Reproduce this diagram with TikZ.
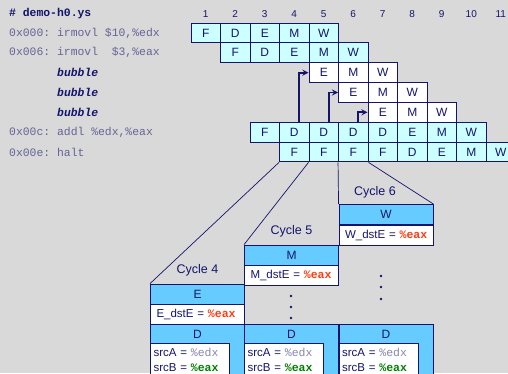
\documentclass[tikz,border=0pt]{standalone}
\usepackage{fontspec}
\setmainfont{Liberation Sans}
\setmonofont{Liberation Mono}
\usetikzlibrary{positioning}

\definecolor{navy}{RGB}{20,20,110}
\definecolor{cellcyan}{RGB}{204,255,255}
\definecolor{hdrblue}{RGB}{102,204,255}
\definecolor{bggray}{RGB}{217,217,217}
\definecolor{codegray}{RGB}{100,100,150}
\definecolor{regred}{RGB}{255,60,20}
\definecolor{reggreen}{RGB}{0,128,0}
\definecolor{reggray}{RGB}{135,135,175}

% one pipeline row: name, row, first cycle, stages, style
\newcommand{\stagerow}[5]{%
  \foreach \s [count=\c from #3] in {#4}
    \node[#5] (#1\c) at ({176.25+29.5*\c},{33+19.83*(#2-1)}) {\s};}

\tikzset{
  cell/.style={draw=navy, fill=cellcyan, line width=0.9pt, minimum width=29.5pt,
    minimum height=19.83pt, inner sep=0pt, text=navy, font=\fontsize{12}{12}\selectfont},
  bubcell/.style={cell, fill=white},
  cycnum/.style={text=navy, font=\fontsize{10}{10}\selectfont},
  code/.style={anchor=west, inner sep=0pt, text=codegray, font=\ttfamily\fontsize{11.4}{12}\selectfont},
  hdr/.style={draw=navy, fill=hdrblue, line width=0.9pt, minimum width=94pt, minimum height=20pt,
    inner sep=0pt, text=navy, font=\fontsize{12}{12}\selectfont},
  val/.style={draw=navy, fill=white, line width=0.9pt, minimum width=94pt, minimum height=20pt,
    inner sep=0pt, anchor=north, text width=82pt, align=left, text=navy, font=\fontsize{11.5}{12}\selectfont},
  dbox/.style={draw=navy, fill=hdrblue, line width=0.9pt, minimum width=94pt, minimum height=60pt,
    inner sep=0pt, anchor=north},
  dval/.style={draw=navy, fill=white, line width=0.9pt, minimum width=79pt, minimum height=33pt,
    inner sep=0pt, anchor=north west, text width=73pt, align=left, text=navy,
    font=\fontsize{11.5}{15.5}\selectfont},
  lbl/.style={text=navy, font=\fontsize{12.5}{13}\selectfont},
  dep/.style={->, navy, line width=1.7pt},
  fan/.style={navy, line width=0.7pt}
}

\begin{document}
\begin{tikzpicture}[x=1pt, y=-1pt, >=stealth]
  \useasboundingbox (0,0) rectangle (508,373);
  \fill[bggray] (0,0) rectangle (508,373);
  \clip (0,0) rectangle (508,373);

  % program listing
  \node[code, text=navy, font=\ttfamily\bfseries\fontsize{11.4}{12}\selectfont] (file) at (9,14) {\# demo-h0.ys};
  \node[code] (l1) at (9,33) {0x000: irmovl \$10,\%edx};
  \node[code] (l2) at (9,52.8) {0x006: irmovl\ \ \$3,\%eax};
  \foreach \r/\y in {1/72.7, 2/92.5, 3/112.3}
    \node[code, text=navy, font=\ttfamily\bfseries\itshape\fontsize{11.4}{12}\selectfont] (bub\r) at (57,\y) {bubble};
  \node[code] (l3) at (9,132.2) {0x00c: addl \%edx,\%eax};
  \node[code] (l4) at (9,152) {0x00e: halt};

  % cycle numbers
  \foreach \c in {1,...,11}
    \node[cycnum] (n\c) at ({176.25+29.5*\c},14) {\c};

  % pipeline diagram
  \stagerow{i1}{1}{1}{F,D,E,M,W}{cell}
  \stagerow{i2}{2}{2}{F,D,E,M,W}{cell}
  \stagerow{b1}{3}{5}{E,M,W}{bubcell}
  \stagerow{b2}{4}{6}{E,M,W}{bubcell}
  \stagerow{b3}{5}{7}{E,M,W}{bubcell}
  \stagerow{add}{6}{3}{F,D,D,D,D,E,M,W}{cell}
  \stagerow{halt}{7}{4}{F,F,F,F,D,E,M,W}{cell}

  % stalled decode feeds the bubbles
  \draw[dep] ([xshift=5pt]add4.north) |- (b15.west);
  \draw[dep] ([xshift=5pt]add5.north) |- (b26.west);
  \draw[dep] ([xshift=5pt]add6.north) |- (b37.west);

  % cycle 4
  \node[hdr] (e4h) at (197.5,294) {E};
  \node[val] (e4v) at (e4h.south) {\mbox{E\_dstE = {\ttfamily\bfseries\color{regred}\%eax}}};
  \node[lbl] (cyc4) at ([yshift=13pt]e4h.north) {Cycle 4};
  \node[dbox] (d4) at (197.5,324) {};
  \node[text=navy, font=\fontsize{12}{12}\selectfont] (d4h) at ([yshift=-10pt]d4.north) {D};
  \node[dval] (d4v) at ([yshift=-19pt]d4.north west)
    {srcA = {\ttfamily\color{reggray}\%edx}\\srcB = {\ttfamily\bfseries\color{reggreen}\%eax}};

  % cycle 5
  \node[hdr] (m5h) at (291.5,255) {M};
  \node[val] (m5v) at (m5h.south) {\mbox{M\_dstE = {\ttfamily\bfseries\color{regred}\%eax}}};
  \node[lbl] (cyc5) at ([yshift=13pt]m5h.north) {Cycle 5};
  \node[dbox] (d5) at (291.5,324) {};
  \node[text=navy, font=\fontsize{12}{12}\selectfont] (d5h) at ([yshift=-10pt]d5.north) {D};
  \node[dval] (d5v) at ([yshift=-19pt]d5.north west)
    {srcA = {\ttfamily\color{reggray}\%edx}\\srcB = {\ttfamily\bfseries\color{reggreen}\%eax}};
  \foreach \y in {296,307,318}
    \fill[navy] (291,\y) circle (1.3);

  % cycle 6
  \node[hdr] (w6h) at (386,214.5) {W};
  \node[val] (w6v) at (w6h.south) {\mbox{W\_dstE = {\ttfamily\bfseries\color{regred}\%eax}}};
  \node[lbl] (cyc6) at ([xshift=-11pt, yshift=12pt]w6h.north) {Cycle 6};
  \node[dbox] (d6) at (386,324) {};
  \node[text=navy, font=\fontsize{12}{12}\selectfont] (d6h) at ([yshift=-10pt]d6.north) {D};
  \node[dval] (d6v) at ([yshift=-19pt]d6.north west)
    {srcA = {\ttfamily\color{reggray}\%edx}\\srcB = {\ttfamily\bfseries\color{reggreen}\%eax}};
  \foreach \y in {276,287,299}
    \fill[navy] (381,\y) circle (1.3);

  % zoom lines
  \draw[fan] (halt4.south west) -- (e4h.north west);
  \draw[fan] (halt5.south west) -- (m5h.north west);
  \draw[fan] (halt6.south west) -- (w6h.north west);
  \draw[fan] (halt6.south east) -- (w6h.north east);
\end{tikzpicture}
\end{document}
